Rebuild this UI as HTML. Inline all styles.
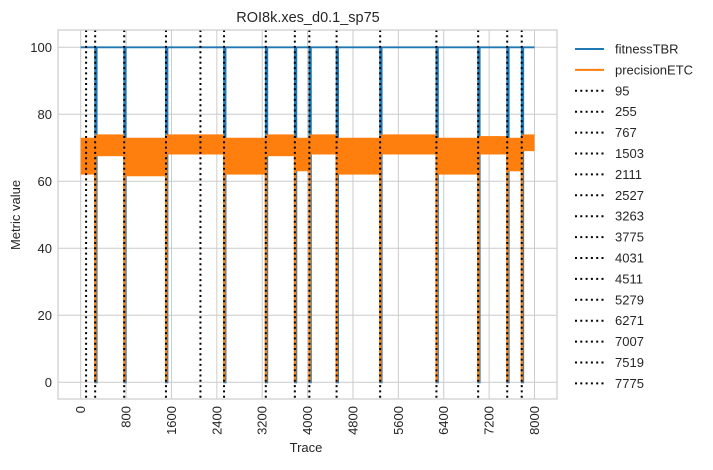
<!DOCTYPE html>
<html><head><meta charset="utf-8"><style>
body{margin:0;background:#fff;}
svg text{font-family:"Liberation Sans","DejaVu Sans",sans-serif;fill:#262626;}
</style></head><body>
<svg id="chart" width="713" height="465" xmlns="http://www.w3.org/2000/svg">
<text x="308" y="22" font-size="14.5" text-anchor="middle">ROI8k.xes_d0.1_sp75</text>
<text x="20" y="215" font-size="13" text-anchor="middle" transform="rotate(-90 20 215)">Metric value</text>
<text x="306" y="452" font-size="13" text-anchor="middle">Trace</text>
<g id="grid"></g><g id="marks"></g><g id="axes"></g><g id="legend"></g>
</svg>
<script>
const drifts=[95,255,767,1503,2111,2527,3263,3775,4031,4511,5279,6271,7007,7519,7775];
const dropPoints=[255,767,1503,2527,3263,3775,4031,4511,5279,6271,7007,7519,7775];
const segStarts=[0,255,767,1503,2527,3263,3775,4031,4511,5279,6271,7007,7519,7775];
const segEnds=[255,767,1503,2527,3263,3775,4031,4511,5279,6271,7007,7519,7775,8000];
const segLow=[62,67.5,61.5,68,62,67.5,63,68,62,68,62,68,63,69];
const segHigh=[73,74,73,74,73,74,73,74,73,74,73,73.5,73,74];
const fitnessValue=100;
const xTicks=[0,800,1600,2400,3200,4000,4800,5600,6400,7200,8000];
const yTicks=[0,20,40,60,80,100];
const seriesNames=["fitnessTBR","precisionETC"];

const L=58,R=557,T=30,B=399;
const X=v=>80.7+v*(534.5-80.7)/8000;
const Y=v=>382.3-v*(382.3-47.3)/100;
const NS="http://www.w3.org/2000/svg";
function mk(tag,attrs,parent){const e=document.createElementNS(NS,tag);for(const k in attrs)e.setAttribute(k,attrs[k]);parent.appendChild(e);return e;}
const grid=document.getElementById('grid'),marks=document.getElementById('marks'),axes=document.getElementById('axes'),legend=document.getElementById('legend');

xTicks.forEach(t=>{
  const g=mk('line',{x1:X(t),x2:X(t),y1:T,y2:B,stroke:'#cccccc','stroke-width':1},grid);
  
  
  const tx=mk('text',{x:0,y:0,'font-size':13,'text-anchor':'end',transform:`translate(${X(t)+4.5},${B+7}) rotate(-90)`},axes);
  tx.textContent=t;
  
  
});
yTicks.forEach(t=>{
  const g=mk('line',{x1:L,x2:R,y1:Y(t),y2:Y(t),stroke:'#cccccc','stroke-width':1},grid);
  
  
  const tx=mk('text',{x:52,y:Y(t)+4.5,'font-size':13,'text-anchor':'end'},axes);
  tx.textContent=t;
  
  
});
const fr=mk('rect',{x:L,y:T,width:R-L,height:B-T,fill:'none',stroke:'#cccccc','stroke-width':1.2},axes);



let fp=`M${X(0)},${Y(fitnessValue)}`;
dropPoints.forEach(d=>{fp+=` L${X(d)},${Y(fitnessValue)} L${X(d)},${Y(0)} L${X(d)+1.5},${Y(0)} L${X(d)+1.5},${Y(fitnessValue)}`;});
fp+=` L${X(8000)},${Y(fitnessValue)}`;
const fl=mk('path',{d:fp,fill:'none',stroke:'#1f77b4','stroke-width':1.8},marks);



segStarts.forEach((s,i)=>{
  const r=mk('rect',{x:X(s),y:Y(segHigh[i]),width:X(segEnds[i])-X(s),height:Y(segLow[i])-Y(segHigh[i]),fill:'#ff7f0e'},marks);
  
  
});
dropPoints.forEach(d=>{
  const r=mk('rect',{x:X(d)-1,y:Y(70),width:2.5,height:Y(0)-Y(70),fill:'#ff7f0e'},marks);
  
  
});
drifts.forEach(d=>{
  const l=mk('line',{x1:X(d),x2:X(d),y1:T,y2:B,stroke:'#000','stroke-width':2,'stroke-dasharray':'2,3.3'},marks);
  
  
});

const labels=seriesNames.concat(drifts.map(String));
labels.forEach((lab,i)=>{
  const y=49+i*20.9;
  const st=i===0?{stroke:'#1f77b4','stroke-width':2}:i===1?{stroke:'#ff7f0e','stroke-width':2}:{stroke:'#000','stroke-width':2,'stroke-dasharray':'2,3.3'};
  const l=mk('line',Object.assign({x1:575,x2:604,y1:y,y2:y},st),legend);
  
  
  const t=mk('text',{x:615,y:y+4.5,'font-size':13},legend);
  t.textContent=lab;
  
  
});
</script>
</body></html>
